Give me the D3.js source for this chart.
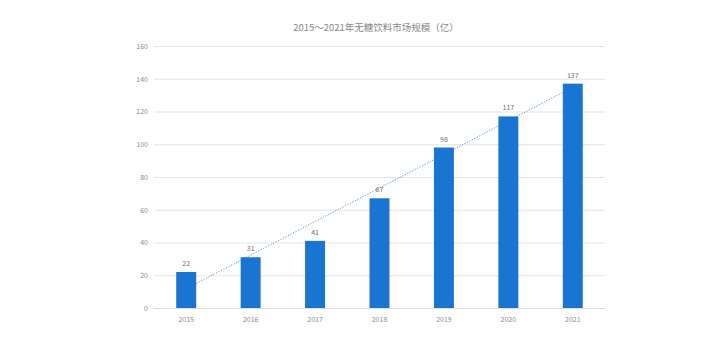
<!DOCTYPE html>
<html>
<head>
<meta charset="utf-8">
<script src="https://cdn.jsdelivr.net/npm/d3@7"></script>
<style>
  html, body { margin: 0; padding: 0; background: #fff; }
  svg { display: block; }
  text { font-family: "Noto Sans CJK SC", "Noto Sans", sans-serif; }
</style>
</head>
<body>
<svg id="chart" width="720" height="342"></svg>
<script>
const years = ["2015", "2016", "2017", "2018", "2019", "2020", "2021"];
const marketSize = [22, 31, 41, 67, 98, 117, 137];
const yTicks = [0, 20, 40, 60, 80, 100, 120, 140, 160];
const titleText = "2015～2021年无糖饮料市场规模（亿）";

const svg = d3.select("#chart");
const margin = { left: 154, right: 115, top: 46, bottom: 34 };
const W = 720, H = 342;

const x = d3.scaleBand().domain(years).range([margin.left, W - margin.right]).padding(0);
const y = d3.scaleLinear().domain([0, 160]).range([H - margin.bottom, margin.top]);
const barW = x.bandwidth() * 0.31;

// title
svg.append("text")
  .attr("x", 376).attr("y", 31)
  .attr("text-anchor", "middle")
  .attr("font-size", 9.5)
  .attr("fill", "#858585")
  .text(titleText);

// horizontal gridlines
const yAxis = d3.axisLeft(y).tickValues(yTicks).tickSize(-(W - margin.left - margin.right)).tickPadding(6);
const gy = svg.append("g").attr("transform", `translate(${margin.left},0)`).call(yAxis);
gy.select(".domain").remove();
gy.selectAll(".tick line").attr("stroke", "#e3e3e3").attr("stroke-width", 1);
gy.selectAll(".tick text").attr("fill", "#8a8a8a").attr("font-size", 7).attr("font-family", "Liberation Sans, sans-serif");

// x axis
const xAxis = d3.axisBottom(x).tickSize(0).tickPadding(9);
const gx = svg.append("g").attr("transform", `translate(0,${y(0)})`).call(xAxis);
gx.select(".domain").attr("stroke", "#dcdcdc");
gx.selectAll(".tick text").attr("fill", "#8a8a8a").attr("font-size", 7).attr("font-family", "Liberation Sans, sans-serif");

// linear trendline (least squares over category index)
const n = marketSize.length;
const xs = d3.range(n);
const mx = d3.mean(xs), my = d3.mean(marketSize);
const slope = d3.sum(xs, i => (i - mx) * (marketSize[i] - my)) / d3.sum(xs, i => (i - mx) ** 2);
const icpt = my - slope * mx;
const cx = i => x(years[0]) + x.bandwidth() / 2 + i * x.step();
svg.append("line")
  .attr("x1", cx(0)).attr("y1", y(icpt))
  .attr("x2", cx(n - 1)).attr("y2", y(icpt + slope * (n - 1)))
  .attr("stroke", "#4f94d4")
  .attr("stroke-width", 1)
  .attr("stroke-dasharray", "1.2,1.6");

// bars, drawn over the trendline
svg.append("g").selectAll("rect").data(marketSize).join("rect")
  .attr("x", (d, i) => x(years[i]) + x.bandwidth() / 2 - barW / 2)
  .attr("y", d => y(d))
  .attr("width", barW)
  .attr("height", d => y(0) - y(d))
  .attr("fill", "#1a74d2");

// value labels
svg.append("g").selectAll("text").data(marketSize).join("text")
  .attr("x", (d, i) => x(years[i]) + x.bandwidth() / 2)
  .attr("y", d => y(d) - 6)
  .attr("text-anchor", "middle")
  .attr("font-size", 7)
  .attr("font-family", "Liberation Sans, sans-serif")
  .attr("fill", "#6e6e6e")
  .text(d => d);
</script>
</body>
</html>
